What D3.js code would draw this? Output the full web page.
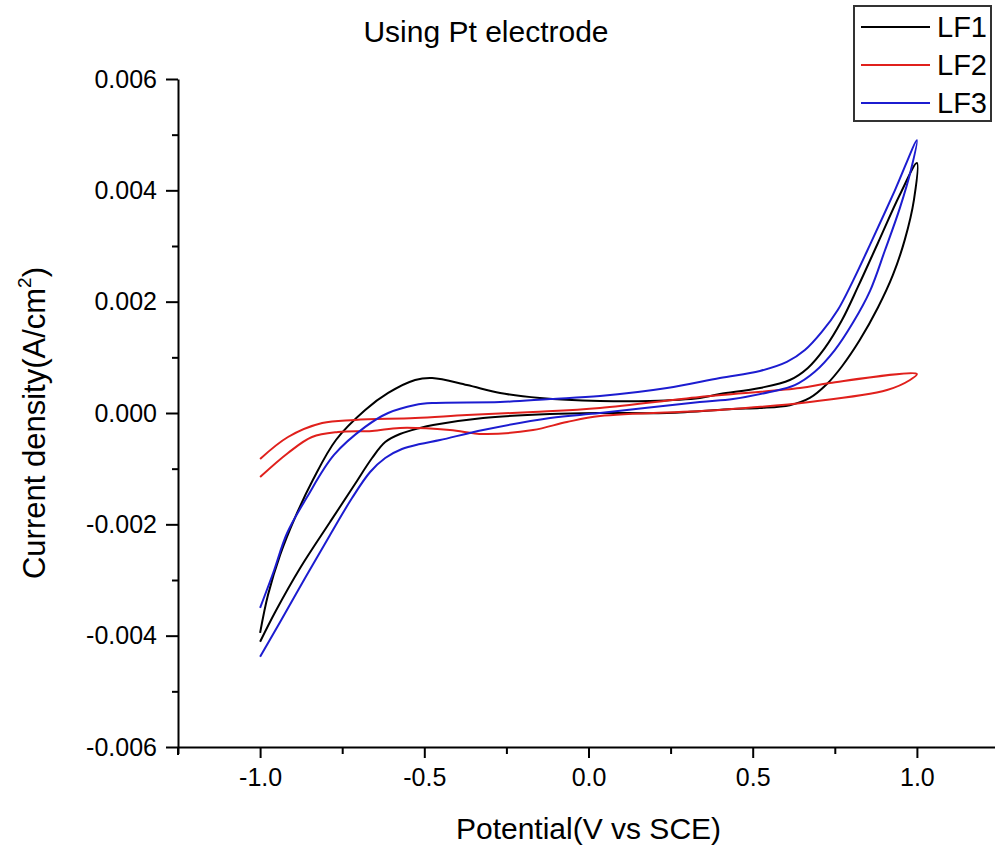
<!DOCTYPE html>
<html>
<head>
<meta charset="utf-8">
<script src="https://cdn.jsdelivr.net/npm/d3@7"></script>
<style>
  body { margin: 0; background: #fff; }
  text { font-family: "Liberation Sans", Arial, sans-serif; fill: #000; }
</style>
</head>
<body>
<div id="chart"></div>
<script>
const w = 995;
const h = 846;

// potential (V vs SCE) and current density (A/cm2), traced around each loop:
// upper branch from -1.0 V to the 1.0 V tip, then the lower branch back
const lf1V = [-1.0, -0.976, -0.939, -0.893, -0.839, -0.769, -0.680, -0.610, -0.528, -0.476, -0.370, -0.269, -0.148, 0.035, 0.187, 0.339, 0.400, 0.522, 0.613, 0.668, 0.720, 0.772, 0.820, 0.881, 0.948, 1.0,
  0.991, 0.963, 0.927, 0.881, 0.826, 0.772, 0.726, 0.674, 0.613, 0.522, 0.440, 0.239, 0.035, -0.117, -0.321, -0.473, -0.513, -0.574, -0.619, -0.659, -0.711, -0.787, -0.878, -0.954, -1.0];
const lf1J = [-0.00395, -0.00327, -0.00255, -0.00187, -0.00120, -0.000485, 0.000054, 0.00036, 0.000593, 0.000629, 0.000503, 0.000359, 0.000269, 0.000216, 0.000216, 0.00027, 0.00034, 0.00045, 0.000593, 0.00081, 0.00117, 0.00167, 0.00226, 0.00305, 0.00392, 0.00449,
  0.00383, 0.00311, 0.00248, 0.00189, 0.00131, 0.00084, 0.00052, 0.00027, 0.00014, 0.00009, 0.00007, 0.0, 0.0, -0.000018, -0.00009, -0.000216, -0.000269, -0.000377, -0.000521, -0.000808, -0.001275, -0.001958, -0.002784, -0.003575, -0.00411];

const lf2V = [-1.0, -0.915, -0.811, -0.711, -0.528, -0.370, -0.169, 0.035, 0.339, 0.644, 0.735, 1.0,
  0.979, 0.909, 0.674, 0.400, 0.035, -0.066, -0.169, -0.321, -0.422, -0.574, -0.659, -0.763, -0.842, -0.915, -1.0];
const lf2J = [-0.000826, -0.000431, -0.00018, -0.000126, -0.00009, -0.000036, 0.000018, 0.00009, 0.000287, 0.000449, 0.000539, 0.0007,
  0.000593, 0.000413, 0.000198, 0.000054, -0.000054, -0.000162, -0.000305, -0.000377, -0.000305, -0.000269, -0.000323, -0.000341, -0.000431, -0.000718, -0.00115];

const lf3V = [-1.0, -0.960, -0.918, -0.857, -0.775, -0.680, -0.610, -0.528, -0.473, -0.269, -0.117, 0.035, 0.239, 0.400, 0.522, 0.604, 0.659, 0.711, 0.759, 0.805, 0.857, 0.933, 1.0,
  0.982, 0.948, 0.902, 0.857, 0.805, 0.750, 0.689, 0.628, 0.552, 0.440, 0.339, 0.035, -0.117, -0.321, -0.452, -0.513, -0.568, -0.619, -0.665, -0.720, -0.787, -0.863, -0.939, -1.0];
const lf3J = [-0.00350, -0.00287, -0.00216, -0.00151, -0.000754, -0.00025, 0.0, 0.000144, 0.00018, 0.000198, 0.000251, 0.000305, 0.000449, 0.000629, 0.000755, 0.000917, 0.00113, 0.00146, 0.00185, 0.00237, 0.00302, 0.00400, 0.00490,
  0.00437, 0.00368, 0.00291, 0.00219, 0.00162, 0.00113, 0.00074, 0.00050, 0.000377, 0.000251, 0.000198, 0.0, -0.00009, -0.000305, -0.000485, -0.000557, -0.000647, -0.000808, -0.00106, -0.001527, -0.00219, -0.002964, -0.003754, -0.00438];

const seriesNames = ["LF1", "LF2", "LF3"];
const seriesColors = ["#000000", "#e0201c", "#1c1cd0"];

const xMajor = [-1.0, -0.5, 0.0, 0.5, 1.0];
const xMinor = [-1.25, -0.75, -0.25, 0.25, 0.75];
const yMajor = [-0.006, -0.004, -0.002, 0.0, 0.002, 0.004, 0.006];
const yMinor = [-0.005, -0.003, -0.001, 0.001, 0.003, 0.005];

const series = [
  { name: seriesNames[0], color: seriesColors[0], pts: lf1V.map((v, i) => [v, lf1J[i]]) },
  { name: seriesNames[1], color: seriesColors[1], pts: lf2V.map((v, i) => [v, lf2J[i]]) },
  { name: seriesNames[2], color: seriesColors[2], pts: lf3V.map((v, i) => [v, lf3J[i]]) }
];

const svg = d3.select("#chart").append("svg")
  .attr("width", w)
  .attr("height", h);

const x = d3.scaleLinear([-1.25, 1.25], [178, 999]);
const y = d3.scaleLinear([-0.006, 0.006], [747, 79]);

// plain hyphen minus, like the original
const fmt = (p) => (d) => d3.format(p)(d).replace("\u2212", "-");

// axes
svg.append("g")
  .attr("transform", `translate(0,${y(-0.006)})`)
  .call(d3.axisBottom(x).tickValues(xMajor).tickFormat(fmt(".1f")).tickSize(11).tickSizeOuter(0).tickPadding(10));
svg.append("g")
  .attr("transform", `translate(0,${y(-0.006)})`)
  .call(d3.axisBottom(x).tickValues(xMinor).tickFormat("").tickSize(7).tickSizeOuter(0))
  .call(g => g.select(".domain").remove());

svg.append("g")
  .attr("transform", `translate(${x(-1.25)},0)`)
  .call(d3.axisLeft(y).tickValues(yMajor).tickFormat(fmt(".3f")).tickSize(12).tickSizeOuter(0).tickPadding(9));
svg.append("g")
  .attr("transform", `translate(${x(-1.25)},0)`)
  .call(d3.axisLeft(y).tickValues(yMinor).tickFormat("").tickSize(6).tickSizeOuter(0))
  .call(g => g.select(".domain").remove());

svg.selectAll(".domain, .tick line").attr("stroke", "#000").attr("stroke-width", 2);
svg.selectAll(".tick text").attr("font-size", 25).style("font-family", "'Liberation Sans', Arial, sans-serif");

// y axis pokes a little below the x axis
svg.append("line")
  .attr("x1", x(-1.25)).attr("x2", x(-1.25))
  .attr("y1", y(-0.006)).attr("y2", y(-0.006) + 8)
  .attr("stroke", "#000").attr("stroke-width", 2);

// curves
const line = d3.line()
  .x(d => x(d[0]))
  .y(d => y(d[1]))
  .curve(d3.curveCatmullRom.alpha(0.5));

svg.append("g").selectAll("path")
  .data(series)
  .join("path")
  .attr("d", d => line(d.pts))
  .attr("fill", "none")
  .attr("stroke", d => d.color)
  .attr("stroke-width", 2);

// titles
svg.append("text")
  .attr("x", 486).attr("y", 42)
  .attr("text-anchor", "middle")
  .attr("font-size", 30)
  .text("Using Pt electrode");

svg.append("text")
  .attr("x", x(0)).attr("y", 839)
  .attr("text-anchor", "middle")
  .attr("font-size", 30)
  .text("Potential(V vs SCE)");

const yt = svg.append("text")
  .attr("transform", `translate(45,${y(0) + 10}) rotate(-90)`)
  .attr("text-anchor", "middle")
  .attr("font-size", 31);
yt.append("tspan").text("Current density(A/cm");
yt.append("tspan").attr("font-size", 19).attr("dy", -14).text("2");
yt.append("tspan").attr("dy", 14).text(")");

// legend
const lg = svg.append("g");
lg.append("rect")
  .attr("x", 854).attr("y", 6)
  .attr("width", 137).attr("height", 115)
  .attr("fill", "#fff")
  .attr("stroke", "#333").attr("stroke-width", 2);

const items = lg.selectAll("g.item")
  .data(series)
  .join("g")
  .attr("class", "item")
  .attr("transform", (d, i) => `translate(0,${27 + i * 38})`);
items.append("line")
  .attr("x1", 861).attr("x2", 930)
  .attr("stroke", d => d.color).attr("stroke-width", 2);
items.append("text")
  .attr("x", 937).attr("y", 10)
  .attr("font-size", 29)
  .text(d => d.name);
</script>
</body>
</html>
